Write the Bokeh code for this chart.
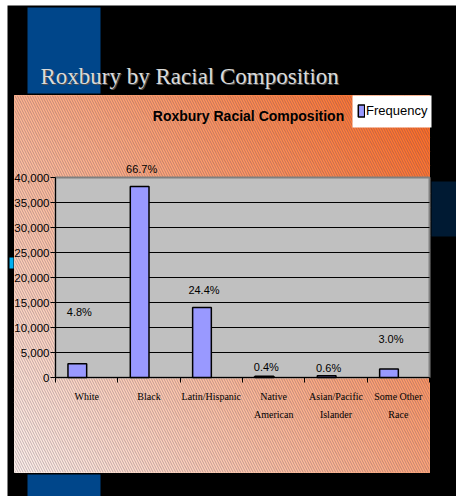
from bokeh.plotting import figure
from bokeh.models import (ColumnDataSource, Range1d, FixedTicker, NumeralTickFormatter,
                          LinearAxis, LabelSet)
from bokeh.core.properties import value
from bokeh.transform import dodge
from bokeh.embed import file_html
from bokeh.resources import INLINE

# ---------------- data ----------------
categories = ["White", "Black", "Latin/Hispanic", "Native\nAmerican",
              "Asian/Pacific\nIslander", "Some Other\nRace"]
frequency = [2750, 38200, 14000, 230, 340, 1720]
percent_labels = ["4.8%", "66.7%", "24.4%", "0.4%", "0.6%", "3.0%"]
y_ticks = [0, 5000, 10000, 15000, 20000, 25000, 30000, 35000, 40000]
series_name = "Frequency"
slide_title = "Roxbury by Racial Composition"
chart_title = "Roxbury Racial Composition"

# style: pixel lift of each percentage label above its bar
label_lift = [52, 18, 18, 9, 8, 30]

# ---------------- geometry ----------------
W, H = 456, 496
FL, FR, FT, FB = 55, 429, 177, 377   # plot-area edges in canvas px (top origin)
NCAT = len(categories)
YMAX = y_ticks[-1]


def cx(px):   # page x -> canvas x
    return px


def cy(py):   # page y -> canvas y measured from bottom
    return H - py


# value / category scales mapped onto the plot area inside a full-canvas frame
vpp = YMAX / (FB - FT)
val_range = Range1d(-(H - FB) * vpp, YMAX + FT * vpp)
upp = NCAT / (FR - FL)
cat_range = Range1d(-0.5 - FL * upp, NCAT - 0.5 + (W - FR) * upp)

p = figure(width=W, height=H, output_backend="svg", toolbar_location=None,
           x_range=Range1d(0, W), y_range=Range1d(0, H),
           x_axis_location=None, y_axis_location=None, min_border=0)
p.extra_x_ranges = {"cat": cat_range}
p.extra_y_ranges = {"val": val_range}
p.border_fill_color = "white"
p.background_fill_color = "white"
p.outline_line_color = None
p.xgrid.visible = False
p.ygrid.visible = False


# ---------------- slide decorations (canvas px) ----------------
def box(l, r, t, b, color):
    p.quad(left=cx(l), right=cx(r), top=cy(t), bottom=cy(b),
           fill_color=color, line_color=None)


box(7, 460, 5, 500, "black")
box(27, 100, 7, 93, "#00468A")
box(27, 100, 474, 500, "#00468A")
box(431, 460, 181, 236, "#001A33")
box(9, 13, 257, 268, "#00B0F0")

# orange gradient panel built from diagonal bands
X0, X1, Y0, Y1 = cx(14), cx(429), cy(472), cy(95)   # Y0 bottom, Y1 top
A, B = 0.55, 0.45
c0 = (255, 243, 236)
c1 = (255, 104, 28)


def tval(pt):
    return A * (pt[0] - X0) / (X1 - X0) + B * (pt[1] - Y0) / (Y1 - Y0)


def clip(poly, g):
    out = []
    n = len(poly)
    for i in range(n):
        P, Q = poly[i], poly[(i + 1) % n]
        gp, gq = g(P), g(Q)
        if gp >= 0:
            out.append(P)
        if (gp >= 0) != (gq >= 0):
            s = gp / (gp - gq)
            out.append((P[0] + s * (Q[0] - P[0]), P[1] + s * (Q[1] - P[1])))
    return out


rect = [(X0, Y0), (X1, Y0), (X1, Y1), (X0, Y1)]
NB = 60
bx, by, bc = [], [], []
for i in range(NB):
    lo, hi = i / NB, (i + 1) / NB
    poly = clip(rect, lambda q: tval(q) - lo)
    poly = clip(poly, lambda q: hi - tval(q))
    if len(poly) < 3:
        continue
    tm = (lo + hi) / 2
    bc.append("#%02x%02x%02x" % tuple(int(round(c0[k] + (c1[k] - c0[k]) * tm)) for k in range(3)))
    bx.append([q[0] for q in poly])
    by.append([q[1] for q in poly])
p.patches(xs=bx, ys=by, fill_color=bc, line_color=bc, line_width=1)

# diagonal hatch over the panel
p.quad(left=X0, right=X1, top=Y1, bottom=Y0, fill_color=None, line_color=None,
       hatch_pattern="\\", hatch_color="#504060", hatch_alpha=0.5,
       hatch_scale=5, hatch_weight=0.7)

# legend box background
box(352, 431, 95, 127, "white")

# ---------------- plot area ----------------
p.quad(left=-0.5, right=NCAT - 0.5, bottom=0, top=YMAX,
       x_range_name="cat", y_range_name="val",
       fill_color="#C0C0C0", line_color="#808080", line_width=2)
p.segment(x0=-0.5, x1=NCAT - 0.5, y0=y_ticks[1:-1], y1=y_ticks[1:-1],
          x_range_name="cat", y_range_name="val", line_color="black", line_width=1)

# titles
p.text(x=[cx(41)], y=[cy(77)], text=[slide_title], text_font=value("Liberation Serif"),
       text_font_size="23px", text_color="#505050", text_baseline="alphabetic")
p.text(x=[cx(40)], y=[cy(76)], text=[slide_title], text_font=value("Liberation Serif"),
       text_font_size="23px", text_color="#DADADA", text_baseline="alphabetic")
p.text(x=[cx(248)], y=[cy(115)], text=[chart_title], text_font=value("Liberation Sans"),
       text_font_style="bold", text_font_size="14px", text_color="black",
       text_align="center", text_baseline="alphabetic")

# ---------------- bars ----------------
src = ColumnDataSource(dict(idx=list(range(NCAT)), value=frequency,
                            pct=percent_labels, lift=label_lift))
xpos = dodge("idx", -0.15, range=cat_range)
p.vbar(x=xpos, top="value", width=0.3, source=src, x_range_name="cat",
       y_range_name="val", fill_color="#9999FF", line_color="black",
       line_width=1.5, legend_label=series_name)

p.add_layout(LabelSet(x=xpos, y="value", text="pct", source=src, x_offset=2,
                      y_offset="lift", x_range_name="cat", y_range_name="val",
                      text_font=value("Liberation Sans"), text_font_size="11px",
                      text_color="black", text_align="center",
                      text_baseline="middle"))

# ---------------- axes ----------------
yax = LinearAxis(y_range_name="val", fixed_location=FL, bounds=(0, YMAX),
                 ticker=FixedTicker(ticks=y_ticks),
                 formatter=NumeralTickFormatter(format="0,0"))
yax.major_label_text_font = "Liberation Sans"
yax.major_label_text_font_size = "11.5px"
yax.major_label_text_color = "black"
yax.major_tick_out = 5
yax.major_tick_in = 0
yax.minor_tick_out = 0
yax.major_label_standoff = 1
yax.axis_line_color = "black"
yax.major_tick_line_color = "black"
p.add_layout(yax, "left")

xax = LinearAxis(x_range_name="cat", fixed_location=H - FB, bounds=(-0.5, NCAT - 0.5),
                 ticker=FixedTicker(ticks=list(range(NCAT)),
                                    minor_ticks=[i - 0.5 for i in range(NCAT + 1)]))
xax.major_label_overrides = {i: c for i, c in enumerate(categories)}
xax.major_label_text_font = "Liberation Serif"
xax.major_label_text_font_size = "10px"
xax.major_label_text_color = "black"
xax.major_label_text_line_height = 1.7
xax.major_tick_out = 0
xax.major_tick_in = 0
xax.minor_tick_out = 5
xax.minor_tick_in = 0
xax.minor_tick_line_color = "black"
xax.major_label_standoff = 8
xax.axis_line_color = "black"
p.add_layout(xax, "below")

# ---------------- legend ----------------
lg = p.legend[0]
lg.location = (cx(357), cy(118))
lg.background_fill_alpha = 0
lg.border_line_color = None
lg.label_text_font = "Liberation Sans"
lg.label_text_font_size = "13px"
lg.label_text_color = "black"
lg.glyph_width = 8
lg.glyph_height = 15
lg.label_standoff = 1
lg.padding = 0
lg.margin = 0
lg.spacing = 0

open("out.html", "w").write(file_html(p, INLINE))
